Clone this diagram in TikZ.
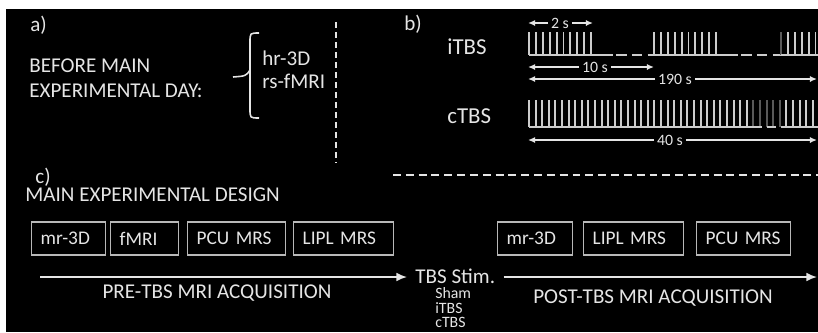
\documentclass[tikz,border=0pt]{standalone}
\usepackage{fontspec}
\setmainfont{Carlito}
\usetikzlibrary{arrows.meta}
\definecolor{fg}{gray}{0.9}
\definecolor{bar}{gray}{0.8}
\definecolor{dim}{gray}{0.35}

\begin{document}
\begin{tikzpicture}[x=0.02cm,y=-0.02cm,
    txt/.style={text=fg,font=\fontsize{12}{14}\selectfont,inner sep=0pt},
    big/.style={text=fg,font=\fontsize{13}{15}\selectfont,inner sep=0pt},
    small/.style={text=fg,font=\fontsize{9}{10}\selectfont,inner sep=0pt},
    dur/.style={text=fg,font=\fontsize{9}{10}\selectfont,inner sep=1.5pt,fill=black},
    scanbox/.style={draw=fg!80!black,line width=0.8pt,text=fg,
      font=\fontsize{11}{13}\selectfont,inner xsep=0.18cm,inner ysep=0pt,
      minimum height=0.66cm,align=left,text width=#1,anchor=west},
    timeline/.style={draw=fg,line width=1pt,-{Latex[length=6pt,width=5pt]}},
    span/.style={draw=fg,line width=0.8pt,-{Latex[length=4pt,width=3.5pt]}},
    pulse/.style={draw=bar,line width=1.1pt},
  ]
  \useasboundingbox (0,0) rectangle (818,332);
  \fill[black] (6,9) rectangle (818,332);

  % a) before main day
  \node[txt,anchor=west] (labela) at (30,25) {a)};
  \node[txt,anchor=west] (before1) at (29,66) {BEFORE MAIN};
  \node[txt,anchor=west] (before2) at (29,91) {EXPERIMENTAL DAY:};
  \node[txt,anchor=west] (hr) at (262,58) {hr-3D};
  \node[txt,anchor=west] (rs) at (262,81) {rs-fMRI};
  \draw[fg,line width=0.9pt] (259,33) .. controls (250,33) .. (250,42) -- (250,109)
    .. controls (250,118) .. (259,118);
  \draw[fg,line width=0.9pt] (233,77) .. controls (246,76) .. (250,70);
  \draw[fg,line width=0.9pt,dash pattern=on 3.4pt off 2.3pt] (336,22) -- (336,163);

  % b) stimulation patterns
  \node[txt,anchor=west] (labelb) at (404,24) {b)};
  \node[big,anchor=west] (itbs) at (447,47) {iTBS};
  \node[big,anchor=west] (ctbs) at (447,116) {cTBS};

  % iTBS train
  \foreach \s in {529,654} {
    \foreach \i in {0,...,9}
      \draw[pulse] (\s+6.9*\i,32) -- (\s+6.9*\i,55);
    \draw[pulse] (\s,55) -- (\s+62,55);
  }
  \draw[pulse] (591,55) -- (613,55);
  \draw[pulse,dash pattern=on 6pt off 3pt] (616,55) -- (654,55);
  \draw[pulse] (716,55) -- (738,55);
  \draw[pulse,dash pattern=on 6pt off 3pt] (741,55) -- (781,55);
  \draw[dim,line width=1.1pt] (781,32) -- (781,55);
  \foreach \i in {1,...,5}
    \draw[pulse] (781+6.9*\i,32) -- (781+6.9*\i,55);
  \draw[pulse] (781,55) -- (818,55);

  % cTBS train
  \foreach \i in {0,...,33}
    \draw[pulse] (529+6.6*\i,100) -- (529+6.6*\i,127);
  \foreach \i in {34,...,38}
    \draw[dim,line width=1.1pt] (529+6.6*\i,100) -- (529+6.6*\i,127);
  \foreach \i in {39,...,43}
    \draw[pulse] (529+6.6*\i,100) -- (529+6.6*\i,127);
  \draw[pulse] (529,127) -- (753,127);
  \draw[pulse,dash pattern=on 5pt off 3pt] (753,127) -- (786,127);
  \draw[pulse] (786,127) -- (818,127);

  % durations
  \coordinate (twol) at (528,23);
  \coordinate (twor) at (593,23);
  \node[dur] (two) at (560,23) {2 s};
  \draw[span] (two) -- (twol);
  \draw[span] (two) -- (twor);
  \coordinate (tenl) at (528,67);
  \coordinate (tenr) at (654,67);
  \node[dur] (ten) at (595,67) {10 s};
  \draw[span] (ten) -- (tenl);
  \draw[span] (ten) -- (tenr);
  \coordinate (longl) at (528,79);
  \coordinate (longr) at (817,79);
  \node[dur] (long) at (675,79) {190 s};
  \draw[span] (long) -- (longl);
  \draw[span] (long) -- (longr);
  \coordinate (fortyl) at (528,140);
  \coordinate (fortyr) at (817,140);
  \node[dur] (forty) at (670,140) {40 s};
  \draw[span] (forty) -- (fortyl);
  \draw[span] (forty) -- (fortyr);

  \draw[fg,line width=0.9pt,dash pattern=on 4.5pt off 2.8pt] (393,175) -- (818,175);

  % c) main design
  \node[txt,anchor=west] (labelc) at (35,177) {c)};
  \node[txt,anchor=west] (design) at (25,195) {MAIN EXPERIMENTAL DESIGN};

  \node[scanbox=1.12cm] (pre1) at (31,238.5) {mr-3D};
  \node[scanbox=1.00cm] (pre2) at (110,238.5) {fMRI};
  \node[scanbox=1.60cm] (pre3) at (187,238.5) {PCU MRS};
  \node[scanbox=1.64cm] (pre4) at (293,238.5) {LIPL MRS};

  \node[scanbox=1.14cm] (post1) at (497,238.5) {mr-3D};
  \node[scanbox=1.64cm] (post2) at (583,238.5) {LIPL MRS};
  \node[scanbox=1.52cm] (post3) at (696,238.5) {PCU MRS};

  \node[txt,anchor=west,inner xsep=0.16cm] (stim) at (407,276) {TBS Stim.};
  \node[small,anchor=west] (sham) at (435,293) {Sham};
  \node[small,anchor=west] (itbsopt) at (435,308) {iTBS};
  \node[small,anchor=west] (ctbsopt) at (435,322) {cTBS};

  \coordinate (prestart) at (40,277);
  \coordinate (postend) at (817,277);
  \draw[timeline] (prestart) -- (prestart -| stim.west);
  \draw[timeline] (stim.east |- postend) -- (postend);

  \node[txt] (prelabel) at (217,293) {PRE-TBS MRI ACQUISITION};
  \node[txt] (postlabel) at (653,298) {POST-TBS MRI ACQUISITION};
\end{tikzpicture}
\end{document}
